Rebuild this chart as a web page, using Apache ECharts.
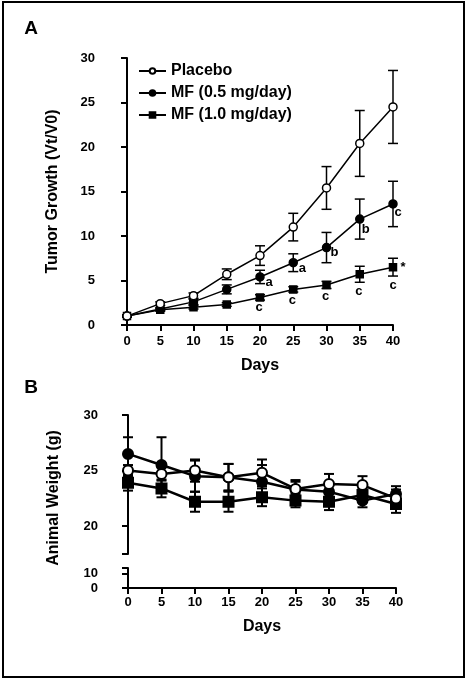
<!DOCTYPE html>
<html>
<head>
<meta charset="utf-8">
<script src="https://cdn.jsdelivr.net/npm/echarts@6/dist/echarts.min.js"></script>
<style>
html,body{margin:0;padding:0;background:#fff;}
#chart{width:470px;height:682px;}
</style>
</head>
<body>
<div id="chart"></div>
<script>
// ---------- data ----------
const days = [0, 5, 10, 15, 20, 25, 30, 35, 40];
const seriesNames = ['Placebo', 'MF (0.5 mg/day)', 'MF (1.0 mg/day)'];

// Panel A: tumor growth (Vt/V0)
const growthPlacebo = [1.0, 2.4, 3.3, 5.7, 7.8, 11.0, 15.4, 20.4, 24.5];
const growthPlaceboErr = [0.1, 0.2, 0.3, 0.6, 1.1, 1.55, 2.4, 3.7, 4.1];
const growthMF05 = [1.0, 1.8, 2.6, 4.0, 5.4, 7.0, 8.7, 11.9, 13.6];
const growthMF05Err = [0.1, 0.15, 0.3, 0.5, 0.75, 1.0, 1.7, 2.25, 2.55];
const growthMF10 = [1.0, 1.7, 2.0, 2.3, 3.1, 4.0, 4.5, 5.7, 6.5];
const growthMF10Err = [0.1, 0.15, 0.2, 0.2, 0.3, 0.3, 0.4, 0.9, 1.0];

// Panel B: animal weight (g)
const weightPlacebo = [25.0, 24.7, 25.0, 24.4, 24.8, 23.35, 23.8, 23.7, 22.5];
const weightPlaceboErr = [0.5, 0.6, 1.0, 1.2, 1.2, 0.8, 0.9, 0.8, 0.8];
const weightMF05 = [26.5, 25.5, 24.5, 24.4, 24.0, 23.3, 23.1, 22.3, 22.9];
const weightMF05Err = [1.5, 2.5, 1.4, 1.2, 1.5, 0.7, 0.8, 0.6, 0.7];
const weightMF10 = [23.9, 23.4, 22.2, 22.2, 22.6, 22.3, 22.2, 22.8, 22.0];
const weightMF10Err = [0.7, 0.8, 0.9, 0.9, 0.8, 0.6, 0.75, 0.6, 0.8];

// Significance annotations on panel A: [day, series index (1 = MF0.5, 2 = MF1.0), text]
const annotations = [
  [20, 1, 'a'], [25, 1, 'a'], [30, 1, 'b'], [35, 1, 'b'], [40, 1, 'c'],
  [20, 2, 'c'], [25, 2, 'c'], [30, 2, 'c'], [35, 2, 'c'], [40, 2, 'c'], [40, 2, '*']
];
// pixel offsets of each annotation label from its point (style only)
const annotationOffsets = [
  [9, 5], [9, 6], [8, 5], [6, 10], [5, 8],
  [-1, 10], [-1, 11], [-1, 11], [-1, 17], [0, 18], [10, 0]
];

// tick values
const weightUpperTicks = [17.5, 20, 25, 30];
const weightUpperLabels = [20, 25, 30];
const weightLowerTicks = [0, 10, 14];
const weightLowerLabels = [0, 10];

// ---------- helpers ----------
const FONT = 'Liberation Sans, Arial, sans-serif';
const growthVals = [growthPlacebo, growthMF05, growthMF10];
const growthErrs = [growthPlaceboErr, growthMF05Err, growthMF10Err];
const weightVals = [weightPlacebo, weightMF05, weightMF10];
const weightErrs = [weightPlaceboErr, weightMF05Err, weightMF10Err];

function pairs(v) { return days.map((d, i) => [d, v[i]]); }
function errData(v, e) { return days.map((d, i) => [d, v[i] - e[i], v[i] + e[i]]); }

function errRender(capHalf, lw) {
  return function (params, api) {
    const x = api.value(0);
    const pLo = api.coord([x, api.value(1)]);
    const pHi = api.coord([x, api.value(2)]);
    const st = { stroke: '#000', lineWidth: lw };
    return {
      type: 'group',
      children: [
        { type: 'line', shape: { x1: pLo[0], y1: pLo[1], x2: pHi[0], y2: pHi[1] }, style: st },
        { type: 'line', shape: { x1: pHi[0] - capHalf, y1: pHi[1], x2: pHi[0] + capHalf, y2: pHi[1] }, style: st },
        { type: 'line', shape: { x1: pLo[0] - capHalf, y1: pLo[1], x2: pLo[0] + capHalf, y2: pLo[1] }, style: st }
      ]
    };
  };
}

const symbols = ['circle', 'circle', 'rect'];
const fills = ['#fff', '#000', '#000'];

const axisLineStyle = { lineStyle: { color: '#000', width: 2 } };
const tickStyle = { length: 6, lineStyle: { color: '#000', width: 2 } };
const labelStyle = { color: '#000', fontFamily: FONT, fontWeight: 'bold', fontSize: 13 };

const series = [];
// Panel A error bars + lines (draw MF1.0, MF0.5, then Placebo on top)
[2, 1, 0].forEach(k => {
  series.push({
    type: 'custom', xAxisIndex: 0, yAxisIndex: 0, z: 2,
    renderItem: errRender(5, 1.5),
    data: errData(growthVals[k], growthErrs[k]),
    silent: true
  });
});
[2, 1, 0].forEach(k => {
  series.push({
    name: seriesNames[k], type: 'line', xAxisIndex: 0, yAxisIndex: 0, z: 3 + (2 - k),
    data: pairs(growthVals[k]),
    symbol: symbols[k], symbolSize: k === 2 ? 7 : 8,
    showAllSymbol: true,
    lineStyle: { color: '#000', width: 1.5 },
    itemStyle: { color: fills[k], borderColor: '#000', borderWidth: 1.5, opacity: 1 }
  });
});
// annotations
series.push({
  type: 'custom', xAxisIndex: 0, yAxisIndex: 0, z: 10, silent: true,
  data: annotations.map((a, i) => [a[0], growthVals[a[1]][days.indexOf(a[0])], i]),
  renderItem: function (params, api) {
    const i = api.value(2);
    const p = api.coord([api.value(0), api.value(1)]);
    const off = annotationOffsets[i];
    return {
      type: 'text',
      x: p[0] + off[0], y: p[1] + off[1],
      style: {
        text: annotations[i][2], fill: '#000',
        font: 'bold 13px ' + FONT, align: 'center', verticalAlign: 'middle'
      }
    };
  }
});
// Panel B
[2, 1, 0].forEach(k => {
  series.push({
    type: 'custom', xAxisIndex: 1, yAxisIndex: 1, z: 2,
    renderItem: errRender(5, 2),
    data: errData(weightVals[k], weightErrs[k]),
    silent: true
  });
});
[2, 1, 0].forEach(k => {
  series.push({
    name: seriesNames[k] + ' ', type: 'line', xAxisIndex: 1, yAxisIndex: 1, z: 3 + (2 - k),
    data: pairs(weightVals[k]),
    symbol: symbols[k], symbolSize: 10,
    showAllSymbol: true,
    lineStyle: { color: '#000', width: 2.5 },
    itemStyle: { color: fills[k], borderColor: '#000', borderWidth: 2, opacity: 1 }
  });
});

const option = {
  animation: false,
  backgroundColor: '#fff',
  textStyle: { fontFamily: FONT },
  legend: {
    data: seriesNames,
    orient: 'vertical',
    left: 133, top: 58,
    itemWidth: 27, itemHeight: 7, itemGap: 6,
    textStyle: { color: '#000', fontFamily: FONT, fontWeight: 'bold', fontSize: 16, lineHeight: 16 },
    selectedMode: false
  },
  grid: [
    { left: 127, right: 77, top: 58, bottom: 357 },   // A
    { left: 128, right: 74, top: 415, bottom: 128 },  // B upper
    { left: 128, right: 74, top: 568, bottom: 94 }    // B lower (broken segment + x axis)
  ],
  xAxis: [
    {
      gridIndex: 0, type: 'value', min: 0, max: 40, interval: 5, offset: 2,
      name: 'Days', nameLocation: 'middle', nameGap: 31,
      nameTextStyle: { color: '#000', fontFamily: FONT, fontWeight: 'bold', fontSize: 16 },
      axisLine: axisLineStyle, axisTick: tickStyle,
      axisLabel: Object.assign({ margin: 8 }, labelStyle),
      splitLine: { show: false }
    },
    {
      gridIndex: 1, type: 'value', min: 0, max: 40, interval: 5, show: false,
      splitLine: { show: false }
    },
    {
      gridIndex: 2, type: 'value', min: 0, max: 40, interval: 5,
      name: 'Days', nameLocation: 'middle', nameGap: 31,
      nameTextStyle: { color: '#000', fontFamily: FONT, fontWeight: 'bold', fontSize: 16 },
      axisLine: axisLineStyle, axisTick: tickStyle,
      axisLabel: Object.assign({ margin: 8 }, labelStyle),
      splitLine: { show: false }
    }
  ],
  yAxis: [
    {
      gridIndex: 0, type: 'value', min: 0, max: 30, interval: 5, offset: 20,
      name: 'Tumor Growth (Vt/V0)', nameLocation: 'middle', nameGap: 46,
      nameTextStyle: { color: '#000', fontFamily: FONT, fontWeight: 'bold', fontSize: 16 },
      axisLine: Object.assign({ show: true }, axisLineStyle), axisTick: tickStyle,
      axisLabel: Object.assign({ margin: 12 }, labelStyle),
      splitLine: { show: false }
    },
    {
      gridIndex: 1, type: 'value', min: 17.5, max: 30, offset: 18,
      axisLine: Object.assign({ show: true }, axisLineStyle),
      axisTick: Object.assign({ customValues: weightUpperTicks }, tickStyle),
      axisLabel: Object.assign({ margin: 12, customValues: weightUpperLabels }, labelStyle),
      splitLine: { show: false }
    },
    {
      gridIndex: 2, type: 'value', min: 0, max: 14, offset: 18,
      axisLine: Object.assign({ show: true }, axisLineStyle),
      axisTick: Object.assign({ customValues: weightLowerTicks }, tickStyle),
      axisLabel: Object.assign({ margin: 12, customValues: weightLowerLabels }, labelStyle),
      splitLine: { show: false }
    }
  ],
  graphic: [
    { type: 'rect', shape: { x: 3, y: 2, width: 461, height: 675 }, style: { fill: 'none', stroke: '#000', lineWidth: 2 }, z: 100 },
    { type: 'text', x: 31, y: 29, style: { text: 'A', font: 'bold 19px ' + FONT, fill: '#000', align: 'center', verticalAlign: 'middle' } },
    { type: 'text', x: 31, y: 388, style: { text: 'B', font: 'bold 19px ' + FONT, fill: '#000', align: 'center', verticalAlign: 'middle' } },
    { type: 'text', x: 54, y: 498, rotation: Math.PI / 2, style: { text: 'Animal Weight (g)', font: 'bold 16px ' + FONT, fill: '#000', align: 'center', verticalAlign: 'middle' } }
  ],
  series: series
};

const chart = echarts.init(document.getElementById('chart'), null, { renderer: 'canvas' });
chart.setOption(option);
</script>
</body>
</html>
